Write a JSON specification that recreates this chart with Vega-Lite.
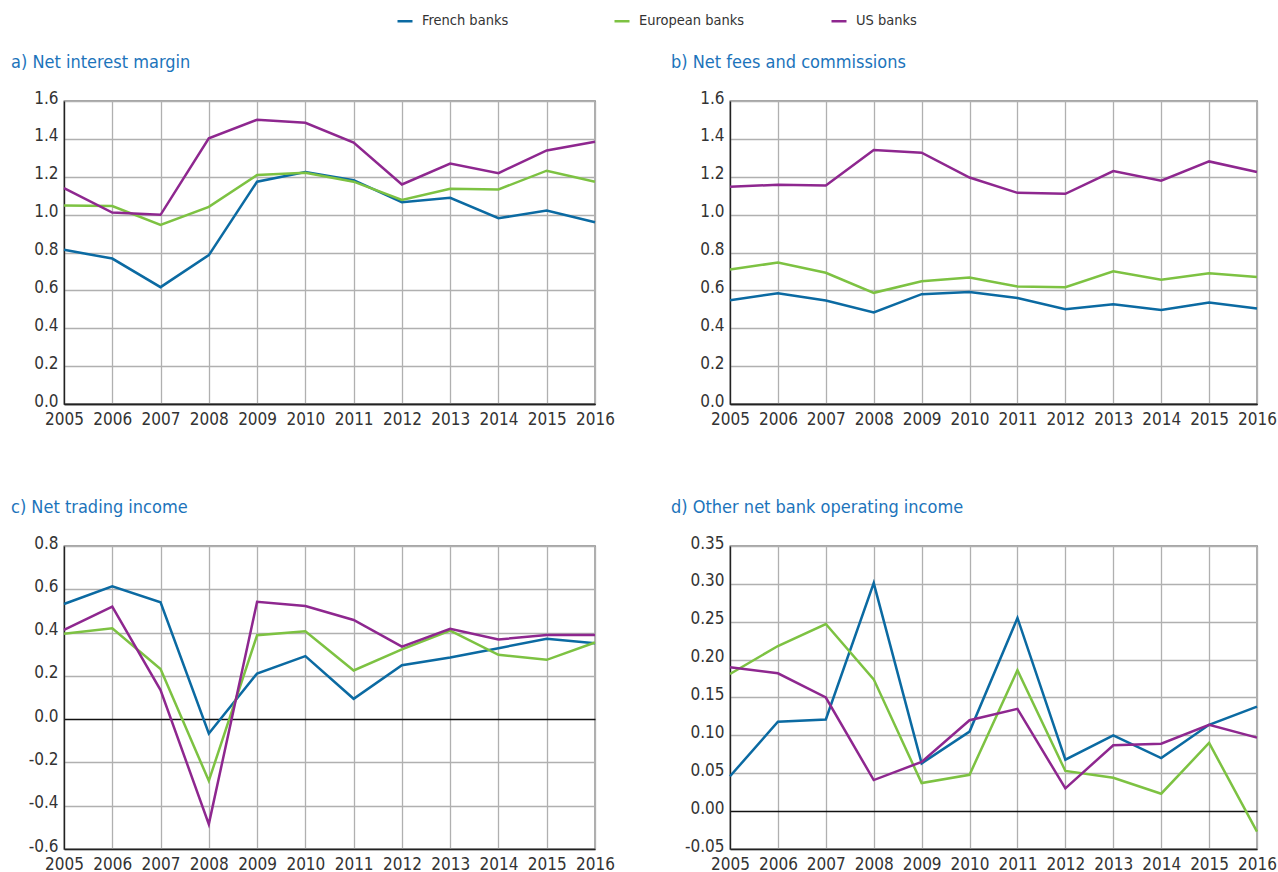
{
  "$schema": "https://vega.github.io/schema/vega-lite/v6.json",
  "padding": {"left": 10, "top": 12, "right": 4, "bottom": 4},
  "background": "white",
  "data": {"values": [
    {"panel":"a","series":"French banks","year":2005,"value":0.814},
    {"panel":"a","series":"French banks","year":2006,"value":0.768},
    {"panel":"a","series":"French banks","year":2007,"value":0.617},
    {"panel":"a","series":"French banks","year":2008,"value":0.786},
    {"panel":"a","series":"French banks","year":2009,"value":1.174},
    {"panel":"a","series":"French banks","year":2010,"value":1.225},
    {"panel":"a","series":"French banks","year":2011,"value":1.182},
    {"panel":"a","series":"French banks","year":2012,"value":1.066},
    {"panel":"a","series":"French banks","year":2013,"value":1.089},
    {"panel":"a","series":"French banks","year":2014,"value":0.981},
    {"panel":"a","series":"French banks","year":2015,"value":1.022},
    {"panel":"a","series":"French banks","year":2016,"value":0.960},
    {"panel":"a","series":"European banks","year":2005,"value":1.048},
    {"panel":"a","series":"European banks","year":2006,"value":1.045},
    {"panel":"a","series":"European banks","year":2007,"value":0.946},
    {"panel":"a","series":"European banks","year":2008,"value":1.041},
    {"panel":"a","series":"European banks","year":2009,"value":1.209},
    {"panel":"a","series":"European banks","year":2010,"value":1.221},
    {"panel":"a","series":"European banks","year":2011,"value":1.174},
    {"panel":"a","series":"European banks","year":2012,"value":1.077},
    {"panel":"a","series":"European banks","year":2013,"value":1.137},
    {"panel":"a","series":"European banks","year":2014,"value":1.133},
    {"panel":"a","series":"European banks","year":2015,"value":1.232},
    {"panel":"a","series":"European banks","year":2016,"value":1.174},
    {"panel":"a","series":"US banks","year":2005,"value":1.140},
    {"panel":"a","series":"US banks","year":2006,"value":1.011},
    {"panel":"a","series":"US banks","year":2007,"value":0.999},
    {"panel":"a","series":"US banks","year":2008,"value":1.403},
    {"panel":"a","series":"US banks","year":2009,"value":1.501},
    {"panel":"a","series":"US banks","year":2010,"value":1.485},
    {"panel":"a","series":"US banks","year":2011,"value":1.380},
    {"panel":"a","series":"US banks","year":2012,"value":1.159},
    {"panel":"a","series":"US banks","year":2013,"value":1.270},
    {"panel":"a","series":"US banks","year":2014,"value":1.219},
    {"panel":"a","series":"US banks","year":2015,"value":1.339},
    {"panel":"a","series":"US banks","year":2016,"value":1.385},
    {"panel":"b","series":"French banks","year":2005,"value":0.548},
    {"panel":"b","series":"French banks","year":2006,"value":0.585},
    {"panel":"b","series":"French banks","year":2007,"value":0.546},
    {"panel":"b","series":"French banks","year":2008,"value":0.483},
    {"panel":"b","series":"French banks","year":2009,"value":0.580},
    {"panel":"b","series":"French banks","year":2010,"value":0.592},
    {"panel":"b","series":"French banks","year":2011,"value":0.560},
    {"panel":"b","series":"French banks","year":2012,"value":0.500},
    {"panel":"b","series":"French banks","year":2013,"value":0.527},
    {"panel":"b","series":"French banks","year":2014,"value":0.497},
    {"panel":"b","series":"French banks","year":2015,"value":0.536},
    {"panel":"b","series":"French banks","year":2016,"value":0.504},
    {"panel":"b","series":"European banks","year":2005,"value":0.710},
    {"panel":"b","series":"European banks","year":2006,"value":0.747},
    {"panel":"b","series":"European banks","year":2007,"value":0.693},
    {"panel":"b","series":"European banks","year":2008,"value":0.587},
    {"panel":"b","series":"European banks","year":2009,"value":0.648},
    {"panel":"b","series":"European banks","year":2010,"value":0.668},
    {"panel":"b","series":"European banks","year":2011,"value":0.620},
    {"panel":"b","series":"European banks","year":2012,"value":0.617},
    {"panel":"b","series":"European banks","year":2013,"value":0.701},
    {"panel":"b","series":"European banks","year":2014,"value":0.656},
    {"panel":"b","series":"European banks","year":2015,"value":0.691},
    {"panel":"b","series":"European banks","year":2016,"value":0.670},
    {"panel":"b","series":"US banks","year":2005,"value":1.147},
    {"panel":"b","series":"US banks","year":2006,"value":1.158},
    {"panel":"b","series":"US banks","year":2007,"value":1.154},
    {"panel":"b","series":"US banks","year":2008,"value":1.341},
    {"panel":"b","series":"US banks","year":2009,"value":1.327},
    {"panel":"b","series":"US banks","year":2010,"value":1.196},
    {"panel":"b","series":"US banks","year":2011,"value":1.115},
    {"panel":"b","series":"US banks","year":2012,"value":1.110},
    {"panel":"b","series":"US banks","year":2013,"value":1.230},
    {"panel":"b","series":"US banks","year":2014,"value":1.179},
    {"panel":"b","series":"US banks","year":2015,"value":1.281},
    {"panel":"b","series":"US banks","year":2016,"value":1.225},
    {"panel":"c","series":"French banks","year":2005,"value":0.532},
    {"panel":"c","series":"French banks","year":2006,"value":0.614},
    {"panel":"c","series":"French banks","year":2007,"value":0.540},
    {"panel":"c","series":"French banks","year":2008,"value":-0.066},
    {"panel":"c","series":"French banks","year":2009,"value":0.211},
    {"panel":"c","series":"French banks","year":2010,"value":0.291},
    {"panel":"c","series":"French banks","year":2011,"value":0.094},
    {"panel":"c","series":"French banks","year":2012,"value":0.249},
    {"panel":"c","series":"French banks","year":2013,"value":0.285},
    {"panel":"c","series":"French banks","year":2014,"value":0.328},
    {"panel":"c","series":"French banks","year":2015,"value":0.371},
    {"panel":"c","series":"French banks","year":2016,"value":0.351},
    {"panel":"c","series":"European banks","year":2005,"value":0.395},
    {"panel":"c","series":"European banks","year":2006,"value":0.420},
    {"panel":"c","series":"European banks","year":2007,"value":0.232},
    {"panel":"c","series":"European banks","year":2008,"value":-0.285},
    {"panel":"c","series":"European banks","year":2009,"value":0.388},
    {"panel":"c","series":"European banks","year":2010,"value":0.406},
    {"panel":"c","series":"European banks","year":2011,"value":0.225},
    {"panel":"c","series":"European banks","year":2012,"value":0.322},
    {"panel":"c","series":"European banks","year":2013,"value":0.409},
    {"panel":"c","series":"European banks","year":2014,"value":0.297},
    {"panel":"c","series":"European banks","year":2015,"value":0.274},
    {"panel":"c","series":"European banks","year":2016,"value":0.354},
    {"panel":"c","series":"US banks","year":2005,"value":0.412},
    {"panel":"c","series":"US banks","year":2006,"value":0.520},
    {"panel":"c","series":"US banks","year":2007,"value":0.134},
    {"panel":"c","series":"US banks","year":2008,"value":-0.485},
    {"panel":"c","series":"US banks","year":2009,"value":0.542},
    {"panel":"c","series":"US banks","year":2010,"value":0.523},
    {"panel":"c","series":"US banks","year":2011,"value":0.458},
    {"panel":"c","series":"US banks","year":2012,"value":0.335},
    {"panel":"c","series":"US banks","year":2013,"value":0.417},
    {"panel":"c","series":"US banks","year":2014,"value":0.368},
    {"panel":"c","series":"US banks","year":2015,"value":0.389},
    {"panel":"c","series":"US banks","year":2016,"value":0.389},
    {"panel":"d","series":"French banks","year":2005,"value":0.046},
    {"panel":"d","series":"French banks","year":2006,"value":0.118},
    {"panel":"d","series":"French banks","year":2007,"value":0.121},
    {"panel":"d","series":"French banks","year":2008,"value":0.301},
    {"panel":"d","series":"French banks","year":2009,"value":0.063},
    {"panel":"d","series":"French banks","year":2010,"value":0.105},
    {"panel":"d","series":"French banks","year":2011,"value":0.255},
    {"panel":"d","series":"French banks","year":2012,"value":0.068},
    {"panel":"d","series":"French banks","year":2013,"value":0.100},
    {"panel":"d","series":"French banks","year":2014,"value":0.070},
    {"panel":"d","series":"French banks","year":2015,"value":0.114},
    {"panel":"d","series":"French banks","year":2016,"value":0.138},
    {"panel":"d","series":"European banks","year":2005,"value":0.181},
    {"panel":"d","series":"European banks","year":2006,"value":0.218},
    {"panel":"d","series":"European banks","year":2007,"value":0.247},
    {"panel":"d","series":"European banks","year":2008,"value":0.174},
    {"panel":"d","series":"European banks","year":2009,"value":0.037},
    {"panel":"d","series":"European banks","year":2010,"value":0.048},
    {"panel":"d","series":"European banks","year":2011,"value":0.186},
    {"panel":"d","series":"European banks","year":2012,"value":0.053},
    {"panel":"d","series":"European banks","year":2013,"value":0.044},
    {"panel":"d","series":"European banks","year":2014,"value":0.023},
    {"panel":"d","series":"European banks","year":2015,"value":0.090},
    {"panel":"d","series":"European banks","year":2016,"value":-0.027},
    {"panel":"d","series":"US banks","year":2005,"value":0.190},
    {"panel":"d","series":"US banks","year":2006,"value":0.182},
    {"panel":"d","series":"US banks","year":2007,"value":0.150},
    {"panel":"d","series":"US banks","year":2008,"value":0.041},
    {"panel":"d","series":"US banks","year":2009,"value":0.065},
    {"panel":"d","series":"US banks","year":2010,"value":0.120},
    {"panel":"d","series":"US banks","year":2011,"value":0.135},
    {"panel":"d","series":"US banks","year":2012,"value":0.030},
    {"panel":"d","series":"US banks","year":2013,"value":0.087},
    {"panel":"d","series":"US banks","year":2014,"value":0.089},
    {"panel":"d","series":"US banks","year":2015,"value":0.114},
    {"panel":"d","series":"US banks","year":2016,"value":0.097}
  ]},
  "columns": 2,
  "bounds": "flush",
  "align": "none",
  "spacing": {"row": 142, "column": 135},
  "resolve": {"scale": {"y": "independent", "x": "independent"}},
  "concat": [
    {
      "width": 531, "height": 303,
      "title": {"text": "a) Net interest margin", "dx": -53},
      "transform": [{"filter": "datum.panel === 'a'"}],
      "mark": {"type": "line", "strokeWidth": 2.5},
      "encoding": {
        "x": {"field": "year", "type": "quantitative", "scale": {"domain": [2005, 2016], "nice": false, "zero": false}, "axis": {"values": [2005,2006,2007,2008,2009,2010,2011,2012,2013,2014,2015,2016]}},
        "y": {"field": "value", "type": "quantitative", "scale": {"domain": [0, 1.6], "nice": false}, "axis": {"values": [0,0.2,0.4,0.6,0.8,1.0,1.2,1.4,1.6], "labelExpr": "replace(format(datum.value, '.1f'), '\u2212', '-')"}},
        "color": {"field": "series", "type": "nominal"}
      }
    },
    {
      "width": 527, "height": 303,
      "title": {"text": "b) Net fees and commissions", "dx": -59},
      "transform": [{"filter": "datum.panel === 'b'"}],
      "mark": {"type": "line", "strokeWidth": 2.5},
      "encoding": {
        "x": {"field": "year", "type": "quantitative", "scale": {"domain": [2005, 2016], "nice": false, "zero": false}, "axis": {"values": [2005,2006,2007,2008,2009,2010,2011,2012,2013,2014,2015,2016]}},
        "y": {"field": "value", "type": "quantitative", "scale": {"domain": [0, 1.6], "nice": false}, "axis": {"values": [0,0.2,0.4,0.6,0.8,1.0,1.2,1.4,1.6], "labelExpr": "replace(format(datum.value, '.1f'), '\u2212', '-')"}},
        "color": {"field": "series", "type": "nominal"}
      }
    },
    {
      "width": 531, "height": 303,
      "title": {"text": "c) Net trading income", "dx": -53},
      "transform": [{"filter": "datum.panel === 'c'"}],
      "mark": {"type": "line", "strokeWidth": 2.5},
      "encoding": {
        "x": {"field": "year", "type": "quantitative", "scale": {"domain": [2005, 2016], "nice": false, "zero": false}, "axis": {"values": [2005,2006,2007,2008,2009,2010,2011,2012,2013,2014,2015,2016]}},
        "y": {"field": "value", "type": "quantitative", "scale": {"domain": [-0.6, 0.8], "nice": false}, "axis": {"values": [-0.6,-0.4,-0.2,0,0.2,0.4,0.6,0.8], "labelExpr": "replace(format(datum.value, '.1f'), '\u2212', '-')"}},
        "color": {"field": "series", "type": "nominal"}
      }
    },
    {
      "width": 527, "height": 303,
      "title": {"text": "d) Other net bank operating income", "dx": -59},
      "transform": [{"filter": "datum.panel === 'd'"}],
      "mark": {"type": "line", "strokeWidth": 2.5},
      "encoding": {
        "x": {"field": "year", "type": "quantitative", "scale": {"domain": [2005, 2016], "nice": false, "zero": false}, "axis": {"values": [2005,2006,2007,2008,2009,2010,2011,2012,2013,2014,2015,2016]}},
        "y": {"field": "value", "type": "quantitative", "scale": {"domain": [-0.05, 0.35], "nice": false}, "axis": {"values": [-0.05,0,0.05,0.1,0.15,0.2,0.25,0.3,0.35], "labelExpr": "replace(format(datum.value, '.2f'), '\u2212', '-')"}},
        "color": {"field": "series", "type": "nominal", "scale": {"domain": ["French banks", "European banks", "US banks"], "range": ["#0b6aa2", "#7dc242", "#8e278f"]},
          "legend": {"title": null, "orient": "none", "direction": "horizontal", "legendX": 332, "legendY": -89, "symbolType": "stroke", "symbolStrokeWidth": 2.5, "symbolSize": 225, "gridAlign": "all", "columnPadding": 81, "labelFontSize": 14.5, "labelColor": "#333333", "labelOffset": 8}}
      }
    }
  ],
  "config": {
    "font": "DejaVu Sans Condensed, DejaVu Sans, sans-serif",
    "view": {"stroke": "#4d4d4d", "strokeWidth": 1.3},
    "range": {"category": ["#0b6aa2", "#7dc242", "#8e278f"]},
    "line": {"strokeWidth": 2.5},
    "title": {"anchor": "start", "frame": "group", "fontSize": 18, "fontWeight": "normal", "color": "#1c74bb", "font": "DejaVu Sans Condensed, DejaVu Sans, sans-serif", "offset": 17},
    "axis": {
      "title": null,
      "ticks": false,
      "labelFont": "DejaVu Sans Condensed, DejaVu Sans, sans-serif",
      "labelFontSize": 17,
      "labelColor": "#333333",
      "domainColor": "#222222",
      "domainWidth": 1.3,
      "gridColor": {"condition": {"test": "datum.value === 0", "value": "#111111"}, "value": "#b0b0b0"},
      "gridWidth": 1.3,
      "labelOverlap": false
    },
    "axisX": {"labelFlush": false, "labelPadding": 7, "format": "d"},
    "axisY": {"labelPadding": 6, "labelOffset": -3},
    "legend": {"labelFont": "DejaVu Sans Condensed, DejaVu Sans, sans-serif"}
  }
}
